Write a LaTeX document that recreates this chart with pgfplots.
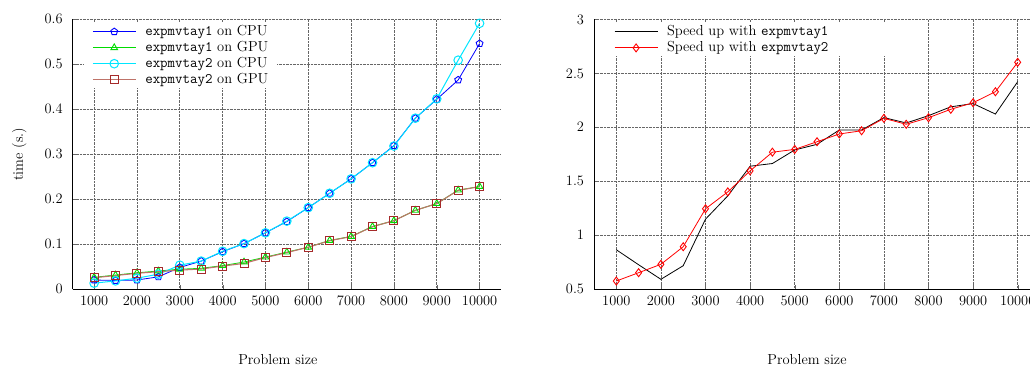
\documentclass[border=0pt]{standalone}
\usepackage{pgfplots}
\pgfplotsset{compat=1.18}
\definecolor{cpuone}{RGB}{0,0,255}
\definecolor{gpuone}{RGB}{0,220,0}
\definecolor{cputwo}{RGB}{0,230,255}
\definecolor{gputwoline}{RGB}{190,115,105}
\definecolor{gputwomark}{RGB}{165,42,42}
\definecolor{spdred}{RGB}{255,0,0}
\pgfplotsset{
  gnu/.style={
    scale only axis,
    anchor=south west,
    axis x line*=bottom,
    axis y line*=left,
    axis line style={line width=0.9pt},
    xmin=500, xmax=10500,
    xtick={1000,2000,3000,4000,5000,6000,7000,8000,9000,10000},
    scaled x ticks=false,
    xticklabel style={/pgf/number format/1000 sep={}, yshift=-4pt},
    yticklabel style={/pgf/number format/fixed, xshift=-6.5pt},
    tick label style={font=\fontsize{14.5}{17}\selectfont},
    label style={font=\fontsize{14.5}{17}\selectfont},
    grid=major,
    major grid style={densely dotted, black!60, line width=0.6pt},
    tick align=inside,
    major tick length=4pt,
    tick style={black!60},
    xlabel={Problem size},
    xlabel style={at={(axis description cs:0.5,0)}, anchor=center, yshift=-71pt},
    legend cell align=left,
    legend style={draw=none, fill=white, inner xsep=8pt, inner ysep=1pt, row sep=1pt, column sep=8pt,
      font=\fontsize{14.5}{17}\selectfont,
      nodes={inner sep=1pt, text height=10pt, text depth=3pt},
      at={(axis description cs:0,1)}, anchor=north west},
    legend image code/.code={
      \draw[mark repeat=2,mark phase=2,##1] plot coordinates {(0pt,0pt) (21.5pt,0pt) (43pt,0pt)};
    },
  }
}
\begin{document}
\begin{tikzpicture}[x=1pt,y=1pt]
\begin{axis}[gnu,
  at={(72.7pt,80pt)}, width=428.3pt, height=269.7pt,
  ymin=0, ymax=0.6,
  ytick={0,0.1,0.2,0.3,0.4,0.5,0.6},
  ylabel={time (s.)},
  ylabel style={at={(axis description cs:0,0.5)}, anchor=center, rotate=0, yshift=53.5pt},
  xlabel style={xshift=-9pt},
  legend style={xshift=11.3pt, yshift=-3.7pt},
]
\addplot[color=cpuone, line width=0.8pt, mark=pentagon, mark size=3.6pt, mark options={solid, line width=0.9pt}] coordinates {
(1000,0.020) (1500,0.019) (2000,0.020) (2500,0.027) (3000,0.048) (3500,0.062)
(4000,0.083) (4500,0.101) (5000,0.125) (5500,0.150) (6000,0.181) (6500,0.213)
(7000,0.245) (7500,0.281) (8000,0.319) (8500,0.380) (9000,0.422) (9500,0.465) (10000,0.546)};
\addlegendentry{\texttt{expmvtay1} on CPU}
\addplot[color=gpuone, line width=0.8pt, mark=triangle, mark size=3.8pt, mark options={solid, line width=0.9pt}] coordinates {
(1000,0.026) (1500,0.031) (2000,0.036) (2500,0.040) (3000,0.044) (3500,0.046)
(4000,0.052) (4500,0.060) (5000,0.071) (5500,0.082) (6000,0.093) (6500,0.108)
(7000,0.117) (7500,0.139) (8000,0.152) (8500,0.175) (9000,0.190) (9500,0.220) (10000,0.228)};
\addlegendentry{\texttt{expmvtay1} on GPU}
\addplot[color=cputwo, line width=1pt, mark=o, mark size=4.3pt, mark options={solid, line width=1pt}] coordinates {
(1000,0.013) (1500,0.018) (2000,0.024) (2500,0.033) (3000,0.053) (3500,0.062)
(4000,0.084) (4500,0.101) (5000,0.125) (5500,0.151) (6000,0.181) (6500,0.213)
(7000,0.245) (7500,0.281) (8000,0.318) (8500,0.380) (9000,0.423) (9500,0.509) (10000,0.591)};
\addlegendentry{\texttt{expmvtay2} on CPU}
\addplot[color=gputwoline, line width=1.1pt, mark=square, mark size=4pt, mark options={solid, draw=gputwomark, line width=0.9pt}] coordinates {
(1000,0.025) (1500,0.030) (2000,0.035) (2500,0.0385) (3000,0.042) (3500,0.0445)
(4000,0.051) (4500,0.057) (5000,0.070) (5500,0.081) (6000,0.093) (6500,0.1075)
(7000,0.1165) (7500,0.1387) (8000,0.152) (8500,0.175) (9000,0.190) (9500,0.2195) (10000,0.2276)};
\addlegendentry{\texttt{expmvtay2} on GPU}
\end{axis}
\begin{axis}[gnu,
  at={(594pt,80pt)}, width=446pt, height=269.5pt,
  ymin=0.5, ymax=3,
  ytick={0.5,1,1.5,2,2.5,3},
  xlabel style={xshift=-10pt},
  legend style={xshift=12pt, yshift=-3.7pt},
]
\addplot[color=black, line width=0.8pt] coordinates {
(1000,0.864) (1500,0.725) (2000,0.590) (2500,0.716) (3000,1.148) (3500,1.364)
(4000,1.639) (4500,1.664) (5000,1.790) (5500,1.842) (6000,1.975) (6500,1.975)
(7000,2.090) (7500,2.040) (8000,2.108) (8500,2.190) (9000,2.220) (9500,2.123) (10000,2.423)};
\addlegendentry{\makebox[225pt][l]{Speed up with \texttt{expmvtay1}}}
\addplot[color=spdred, line width=0.8pt, mark=diamond, mark size=4pt, mark options={solid, line width=0.9pt}] coordinates {
(1000,0.574) (1500,0.651) (2000,0.729) (2500,0.892) (3000,1.244) (3500,1.401)
(4000,1.596) (4500,1.769) (5000,1.795) (5500,1.866) (6000,1.938) (6500,1.968)
(7000,2.083) (7500,2.028) (8000,2.089) (8500,2.167) (9000,2.228) (9500,2.330) (10000,2.603)};
\addlegendentry{\makebox[225pt][l]{Speed up with \texttt{expmvtay2}}}
\end{axis}
\pgfresetboundingbox
\path[use as bounding box] (0pt,0pt) rectangle (1030pt,369pt);
\end{tikzpicture}
\end{document}
